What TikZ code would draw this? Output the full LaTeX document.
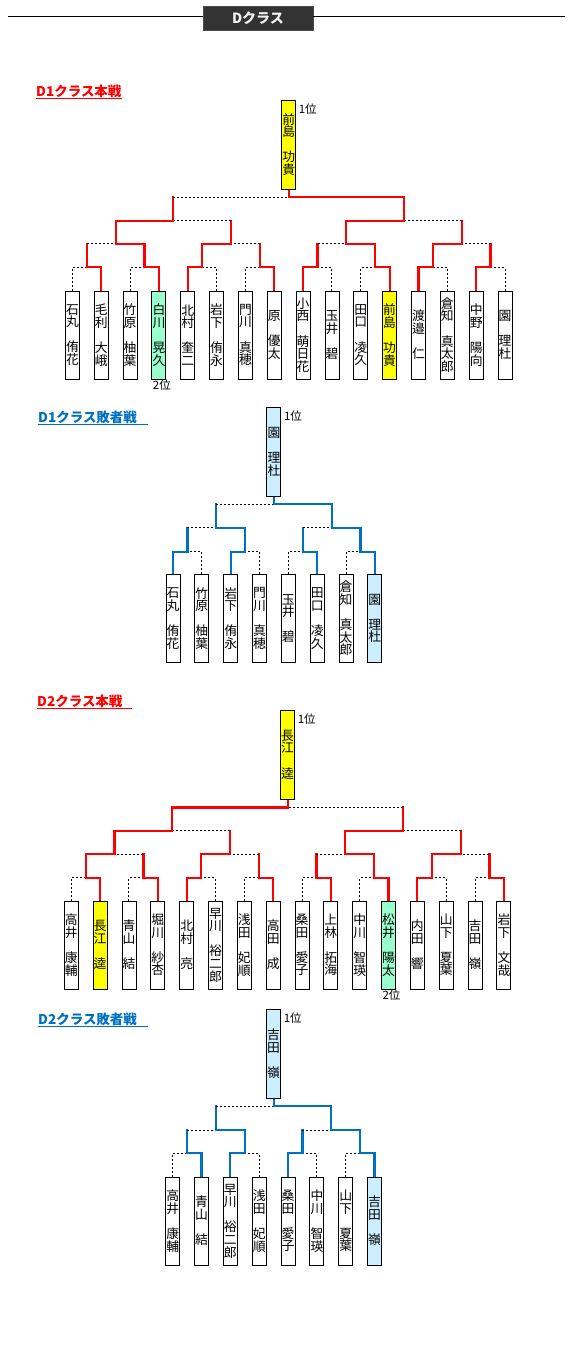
\documentclass[tikz,border=0pt]{standalone}
\usepackage{fontspec}
\setmainfont{Noto Sans CJK JP}
\usetikzlibrary{backgrounds}
\definecolor{rd}{HTML}{FF0000}
\definecolor{bu}{HTML}{0070C0}
\definecolor{yl}{HTML}{FFFF00}
\definecolor{gr}{HTML}{99FFCC}
\definecolor{lb}{HTML}{CCEEFF}
\definecolor{hd}{HTML}{333333}
\newlength\blk \setlength\blk{12.6pt}
\newcommand\pit{28.84}
\newcommand\PB[5]{\node[pb,fill=#4] (#1) at ({\xo+(#2-1)*\pit},#3) {#5};}
\newcommand\PS[3]{\draw[#1] (#2.north) |- (#3);}
\newcommand\MS[4]{\draw[#1] (#3) -- (#3 |- #4); \draw[#2] (#3 |- #4) -- (#4);}
\begin{document}
\begin{tikzpicture}[x=1pt,y=-1pt,
  pb/.style={draw=black,line width=0.9pt,fill=white,minimum width=14pt,minimum height=88pt,inner sep=0pt,align=center,font=\fontsize{12.8}{12.6}\selectfont},
  wb/.style={pb,minimum height=89pt},
  rw/.style={draw=rd,line width=2.2pt,line cap=rect},
  bw/.style={draw=bu,line width=2.2pt,line cap=rect},
  ls/.style={draw=black,line width=1pt,dash pattern=on 2pt off 2pt},
  lab/.style={font=\fontsize{11.5}{11.5}\selectfont,inner sep=0pt},
  ttl/.style={font=\fontsize{13.5}{13.5}\selectfont\bfseries,inner sep=0pt,anchor=base west},
  ul/.style={line width=1.3pt}]
\useasboundingbox (0,0) rectangle (570,1348);
% header
\node[fill=hd,draw=black!70,line width=0.8pt,minimum width=110pt,minimum height=24.5pt,inner sep=0pt,text=black!5,font=\fontsize{14}{14}\selectfont\bfseries] (hdr) at (258,18.3) {Dクラス};
\coordinate (hl) at (8,17); \coordinate (hr) at (565,17);
\draw[line width=1pt] (hl) -- (hl -| hdr.west);
\draw[line width=1pt] (hdr.east |- hr) -- (hr);
% titles
\node[ttl,text=rd] (t1) at (36,96.5) {D1クラス本戦};
\draw[ul,rd] ([yshift=-1.8pt]t1.base west) -- ++(86,0);
\node[ttl,text=bu] (t2) at (38,422.5) {D1クラス敗者戦};
\draw[ul,bu] ([yshift=-1.8pt]t2.base west) -- ++(110,0);
\node[ttl,text=rd] (t3) at (37,706.5) {D2クラス本戦};
\draw[ul,rd] ([yshift=-1.8pt]t3.base west) -- ++(95,0);
\node[ttl,text=bu] (t4) at (38,1024.5) {D2クラス敗者戦};
\draw[ul,bu] ([yshift=-1.8pt]t4.base west) -- ++(110,0);

% ===== D1 main =====
\def\xo{72.4}
\PB{Ap1}{1}{335}{white}{石\\丸\\[\blk]侑\\花}
\PB{Ap2}{2}{335}{white}{毛\\利\\[\blk]大\\峨}
\PB{Ap3}{3}{335}{white}{竹\\原\\[\blk]柚\\葉}
\PB{Ap4}{4}{335}{gr}{白\\川\\[\blk]晃\\久}
\PB{Ap5}{5}{335}{white}{北\\村\\[\blk]奎\\二}
\PB{Ap6}{6}{335}{white}{岩\\下\\[\blk]侑\\永}
\PB{Ap7}{7}{335}{white}{門\\川\\[\blk]真\\穂}
\PB{Ap8}{8}{335}{white}{原\\[\blk]優\\太}
\PB{Ap9}{9}{335}{white}{小\\西\\[\blk]萌\\日\\花}
\PB{Ap10}{10}{335}{white}{玉\\井\\[\blk]碧}
\PB{Ap11}{11}{335}{white}{田\\口\\[\blk]凌\\久}
\PB{Ap12}{12}{335}{yl}{前\\島\\[\blk]功\\貴}
\PB{Ap13}{13}{335}{white}{渡\\邉\\[\blk]仁}
\PB{Ap14}{14}{335}{white}{倉\\知\\[\blk]真\\太\\郎}
\PB{Ap15}{15}{335}{white}{中\\野\\[\blk]陽\\向}
\PB{Ap16}{16}{335}{white}{園\\[\blk]理\\杜}
\node[wb,fill=yl] (Aw) at ({\xo+7.5*\pit},144.5) {前\\島\\[\blk]功\\貴};
\node[lab,anchor=west,xshift=2.5pt,yshift=-9.3pt] (Aw1) at (Aw.north east) {1位};
\node[lab,anchor=north,xshift=3pt,yshift=-0.5pt] (Ap4b) at (Ap4.south) {2位};
\foreach \k in {1,...,8}{\coordinate (Am1\k) at ({\xo+(2*\k-1.5)*\pit},267.3);}
\foreach \k in {1,...,4}{\coordinate (Am2\k) at ({\xo+(4*\k-2.5)*\pit},244);}
\foreach \k in {1,2}{\coordinate (Am3\k) at ({\xo+(8*\k-4.5)*\pit},220.7);}
\coordinate (Am41) at ({\xo+7.5*\pit},197.3);
\begin{pgfonlayer}{background}
\PS{ls}{Ap1}{Am11} \PS{rw}{Ap2}{Am11}
\PS{ls}{Ap3}{Am12} \PS{rw}{Ap4}{Am12}
\PS{rw}{Ap5}{Am13} \PS{ls}{Ap6}{Am13}
\PS{ls}{Ap7}{Am14} \PS{rw}{Ap8}{Am14}
\PS{rw}{Ap9}{Am15} \PS{ls}{Ap10}{Am15}
\PS{ls}{Ap11}{Am16} \PS{rw}{Ap12}{Am16}
\PS{rw}{Ap13}{Am17} \PS{ls}{Ap14}{Am17}
\PS{rw}{Ap15}{Am18} \PS{ls}{Ap16}{Am18}
\MS{rw}{ls}{Am11}{Am21} \MS{rw}{rw}{Am12}{Am21}
\MS{rw}{rw}{Am13}{Am22} \MS{rw}{ls}{Am14}{Am22}
\MS{rw}{ls}{Am15}{Am23} \MS{rw}{rw}{Am16}{Am23}
\MS{rw}{rw}{Am17}{Am24} \MS{rw}{ls}{Am18}{Am24}
\MS{rw}{rw}{Am21}{Am31} \MS{rw}{ls}{Am22}{Am31}
\MS{rw}{rw}{Am23}{Am32} \MS{rw}{ls}{Am24}{Am32}
\MS{rw}{ls}{Am31}{Am41} \MS{rw}{rw}{Am32}{Am41}
\draw[rw] (Aw.south) -- (Am41);
\end{pgfonlayer}

% ===== D1 losers =====
\def\xo{173}
\PB{Bp1}{1}{618.5}{white}{石\\丸\\[\blk]侑\\花}
\PB{Bp2}{2}{618.5}{white}{竹\\原\\[\blk]柚\\葉}
\PB{Bp3}{3}{618.5}{white}{岩\\下\\[\blk]侑\\永}
\PB{Bp4}{4}{618.5}{white}{門\\川\\[\blk]真\\穂}
\PB{Bp5}{5}{618.5}{white}{玉\\井\\[\blk]碧}
\PB{Bp6}{6}{618.5}{white}{田\\口\\[\blk]凌\\久}
\PB{Bp7}{7}{618.5}{white}{倉\\知\\[\blk]真\\太\\郎}
\PB{Bp8}{8}{618.5}{lb}{園\\[\blk]理\\杜}
\node[wb,fill=lb] (Bw) at ({\xo+3.5*\pit},452) {園\\[\blk]理\\杜};
\node[lab,anchor=west,xshift=2.5pt,yshift=-9.3pt] (Bw1) at (Bw.north east) {1位};
\foreach \k in {1,...,4}{\coordinate (Bm1\k) at ({\xo+(2*\k-1.5)*\pit},551.7);}
\foreach \k in {1,2}{\coordinate (Bm2\k) at ({\xo+(4*\k-2.5)*\pit},527.9);}
\coordinate (Bm31) at ({\xo+3.5*\pit},504.2);
\begin{pgfonlayer}{background}
\PS{bw}{Bp1}{Bm11} \PS{ls}{Bp2}{Bm11}
\PS{bw}{Bp3}{Bm12} \PS{ls}{Bp4}{Bm12}
\PS{ls}{Bp5}{Bm13} \PS{bw}{Bp6}{Bm13}
\PS{ls}{Bp7}{Bm14} \PS{bw}{Bp8}{Bm14}
\MS{bw}{ls}{Bm11}{Bm21} \MS{bw}{bw}{Bm12}{Bm21}
\MS{bw}{ls}{Bm13}{Bm22} \MS{bw}{bw}{Bm14}{Bm22}
\MS{bw}{ls}{Bm21}{Bm31} \MS{bw}{bw}{Bm22}{Bm31}
\draw[bw] (Bw.south) -- (Bm31);
\end{pgfonlayer}

% ===== D2 main =====
\def\xo{71.3}
\PB{Cp1}{1}{945}{white}{高\\井\\[\blk]康\\輔}
\PB{Cp2}{2}{945}{yl}{長\\江\\[\blk]逵}
\PB{Cp3}{3}{945}{white}{青\\山\\[\blk]結}
\PB{Cp4}{4}{945}{white}{堀\\川\\[\blk]紗\\杏}
\PB{Cp5}{5}{945}{white}{北\\村\\[\blk]亮}
\PB{Cp6}{6}{945}{white}{早\\川\\[\blk]裕\\二\\郎}
\PB{Cp7}{7}{945}{white}{浅\\田\\[\blk]妃\\順}
\PB{Cp8}{8}{945}{white}{高\\田\\[\blk]成}
\PB{Cp9}{9}{945}{white}{桑\\田\\[\blk]愛\\子}
\PB{Cp10}{10}{945}{white}{上\\林\\[\blk]拓\\海}
\PB{Cp11}{11}{945}{white}{中\\川\\[\blk]智\\瑛}
\PB{Cp12}{12}{945}{gr}{松\\井\\[\blk]陽\\太}
\PB{Cp13}{13}{945}{white}{内\\田\\[\blk]響}
\PB{Cp14}{14}{945}{white}{山\\下\\[\blk]夏\\葉}
\PB{Cp15}{15}{945}{white}{吉\\田\\[\blk]嶺}
\PB{Cp16}{16}{945}{white}{岩\\下\\[\blk]文\\哉}
\node[wb,fill=yl] (Cw) at ({\xo+7.5*\pit},754.5) {長\\江\\[\blk]逵};
\node[lab,anchor=west,xshift=2.5pt,yshift=-9.3pt] (Cw1) at (Cw.north east) {1位};
\node[lab,anchor=north,xshift=3pt,yshift=-0.5pt] (Cp12b) at (Cp12.south) {2位};
\foreach \k in {1,...,8}{\coordinate (Cm1\k) at ({\xo+(2*\k-1.5)*\pit},877.7);}
\foreach \k in {1,...,4}{\coordinate (Cm2\k) at ({\xo+(4*\k-2.5)*\pit},854.3);}
\foreach \k in {1,2}{\coordinate (Cm3\k) at ({\xo+(8*\k-4.5)*\pit},830.8);}
\coordinate (Cm41) at ({\xo+7.5*\pit},807.4);
\begin{pgfonlayer}{background}
\PS{ls}{Cp1}{Cm11} \PS{rw}{Cp2}{Cm11}
\PS{ls}{Cp3}{Cm12} \PS{rw}{Cp4}{Cm12}
\PS{rw}{Cp5}{Cm13} \PS{ls}{Cp6}{Cm13}
\PS{ls}{Cp7}{Cm14} \PS{rw}{Cp8}{Cm14}
\PS{ls}{Cp9}{Cm15} \PS{rw}{Cp10}{Cm15}
\PS{ls}{Cp11}{Cm16} \PS{rw}{Cp12}{Cm16}
\PS{rw}{Cp13}{Cm17} \PS{ls}{Cp14}{Cm17}
\PS{ls}{Cp15}{Cm18} \PS{rw}{Cp16}{Cm18}
\MS{rw}{rw}{Cm11}{Cm21} \MS{rw}{ls}{Cm12}{Cm21}
\MS{rw}{rw}{Cm13}{Cm22} \MS{rw}{ls}{Cm14}{Cm22}
\MS{rw}{ls}{Cm15}{Cm23} \MS{rw}{rw}{Cm16}{Cm23}
\MS{rw}{rw}{Cm17}{Cm24} \MS{rw}{ls}{Cm18}{Cm24}
\MS{rw}{rw}{Cm21}{Cm31} \MS{rw}{ls}{Cm22}{Cm31}
\MS{rw}{rw}{Cm23}{Cm32} \MS{rw}{ls}{Cm24}{Cm32}
\MS{rw}{rw}{Cm31}{Cm41} \MS{rw}{ls}{Cm32}{Cm41}
\draw[rw] (Cw.south) -- (Cm41);
\end{pgfonlayer}

% ===== D2 losers =====
\def\xo{172.7}
\PB{Dp1}{1}{1221}{white}{高\\井\\[\blk]康\\輔}
\PB{Dp2}{2}{1221}{white}{青\\山\\[\blk]結}
\PB{Dp3}{3}{1221}{white}{早\\川\\[\blk]裕\\二\\郎}
\PB{Dp4}{4}{1221}{white}{浅\\田\\[\blk]妃\\順}
\PB{Dp5}{5}{1221}{white}{桑\\田\\[\blk]愛\\子}
\PB{Dp6}{6}{1221}{white}{中\\川\\[\blk]智\\瑛}
\PB{Dp7}{7}{1221}{white}{山\\下\\[\blk]夏\\葉}
\PB{Dp8}{8}{1221}{lb}{吉\\田\\[\blk]嶺}
\node[wb,fill=lb] (Dw) at ({\xo+3.5*\pit},1054) {吉\\田\\[\blk]嶺};
\node[lab,anchor=west,xshift=2.5pt,yshift=-9.3pt] (Dw1) at (Dw.north east) {1位};
\foreach \k in {1,...,4}{\coordinate (Dm1\k) at ({\xo+(2*\k-1.5)*\pit},1153.3);}
\foreach \k in {1,2}{\coordinate (Dm2\k) at ({\xo+(4*\k-2.5)*\pit},1130);}
\coordinate (Dm31) at ({\xo+3.5*\pit},1106);
\begin{pgfonlayer}{background}
\PS{ls}{Dp1}{Dm11} \PS{bw}{Dp2}{Dm11}
\PS{bw}{Dp3}{Dm12} \PS{ls}{Dp4}{Dm12}
\PS{bw}{Dp5}{Dm13} \PS{ls}{Dp6}{Dm13}
\PS{ls}{Dp7}{Dm14} \PS{bw}{Dp8}{Dm14}
\MS{bw}{ls}{Dm11}{Dm21} \MS{bw}{bw}{Dm12}{Dm21}
\MS{bw}{ls}{Dm13}{Dm22} \MS{bw}{bw}{Dm14}{Dm22}
\MS{bw}{ls}{Dm21}{Dm31} \MS{bw}{bw}{Dm22}{Dm31}
\draw[bw] (Dw.south) -- (Dm31);
\end{pgfonlayer}
\end{tikzpicture}
\end{document}
